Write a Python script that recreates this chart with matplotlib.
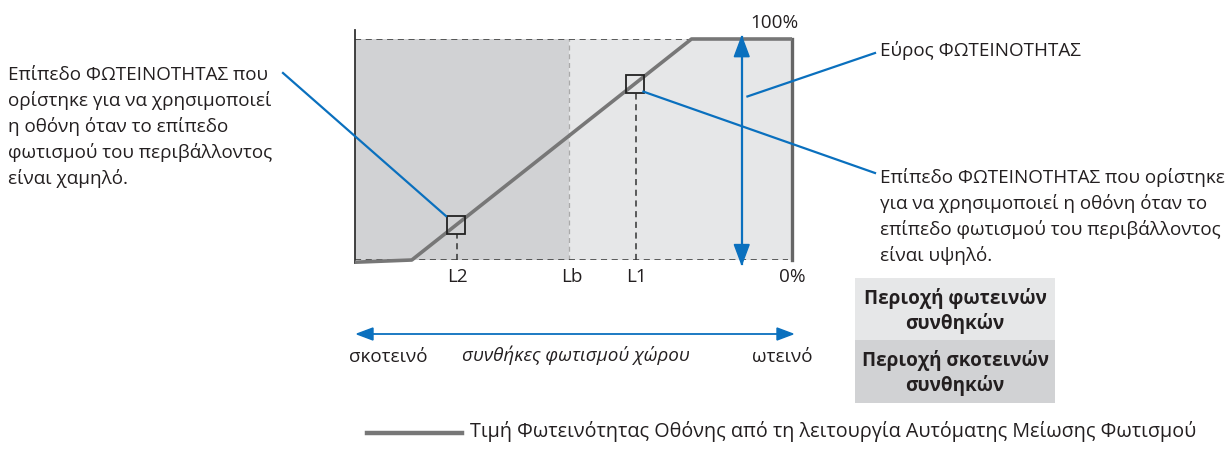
import numpy as np
import matplotlib
matplotlib.use("Agg")
import matplotlib.pyplot as plt
from matplotlib.patches import Rectangle, Polygon

plt.rcParams['font.family'] = ['Open Sans', 'DejaVu Sans']

# ---- data ----
curve_x = [0, 13, 77, 100]          # ambient light (% of range)
curve_y = [-1, 0, 100, 100]         # brightness (%)
lb_x = 49                            # boundary between dark/bright regions
l2_x = 23
l1_x = 64
tick_labels = ["L2", "Lb", "L1"]
left_text = ("Επίπεδο ΦΩΤΕΙΝΟΤΗΤΑΣ που\nορίστηκε για να χρησιμοποιεί\n"
             "η οθόνη όταν το επίπεδο\nφωτισμού του περιβάλλοντος\nείναι χαμηλό.")
right_text = ("Επίπεδο ΦΩΤΕΙΝΟΤΗΤΑΣ που ορίστηκε\nγια να χρησιμοποιεί η οθόνη όταν το\n"
              "επίπεδο φωτισμού του περιβάλλοντος\nείναι υψηλό.")
range_text = "Εύρος ΦΩΤΕΙΝΟΤΗΤΑΣ"
bright_box = "Περιοχή φωτεινών\nσυνθηκών"
dark_box = "Περιοχή σκοτεινών\nσυνθηκών"
axis_left, axis_mid, axis_right = "σκοτεινό", "συνθήκες φωτισμού χώρου", "ωτεινό"
legend_text = "Τιμή Φωτεινότητας Οθόνης από τη λειτουργία Αυτόματης Μείωσης Φωτισμού"

W, H = 1229, 458
fig = plt.figure(figsize=(W / 100, H / 100), dpi=100)
fig.patch.set_facecolor("white")

DARK = "#d1d2d4"
LIGHT = "#e6e7e8"
BLUE = "#0a70be"
GRAY = "#777777"
TXT = "#231f20"
FS = 13.6

# chart axes
ax = fig.add_axes([355 / W, 1 - 260 / H, (792 - 355) / W, (260 - 39) / H])
ax.set_xlim(0, 100)
ax.set_ylim(0, 100)
ax.axis("off")
ax.patch.set_alpha(0)

# overlay in pixel coords, on top of the chart
ov = fig.add_axes([0, 0, 1, 1], zorder=5)
ov.set_xlim(0, W)
ov.set_ylim(H, 0)
ov.axis("off")
ov.patch.set_alpha(0)

ax.axvspan(0, lb_x, color=DARK, lw=0, zorder=0)
ax.axvspan(lb_x, 100, color=LIGHT, lw=0, zorder=0)
ax.axvline(lb_x, color="#aaaaaa", lw=0.9, ls=(0, (4, 3)), zorder=1)
# top and bottom dashed lines
ax.plot([0, curve_x[2]], [100, 100], color="#333333", lw=1.1, ls=(0, (4, 3)), zorder=2)
ax.plot([0, 99], [0, 0], color="#333333", lw=1.1, ls=(0, (4, 3)), zorder=2)
# left and right verticals
ax.plot([0, 0], [-1.5, 104], color="#333333", lw=1.3, clip_on=False, zorder=3)
ax.plot([100, 100], [0, 100], color="#666666", lw=2.4, clip_on=False, zorder=3)

# curve
ax.plot(curve_x, curve_y, color=GRAY, lw=2.6, clip_on=False, zorder=4,
        solid_capstyle="butt")

# L markers
for lx in (l2_x, l1_x):
    ly = np.interp(lx, curve_x[1:], curve_y[1:])
    ax.plot([lx + 0.4, lx + 0.4], [0, ly - 4], color="#333333", lw=1.1,
            ls=(0, (4, 3)), zorder=3)
    ax.plot(lx, ly, marker="s", ms=13, mfc="none", mec="#222222", mew=1.3, zorder=5)

for lx, lab in zip((l2_x, lb_x, l1_x), tick_labels):
    ax.text(lx + 0.5, -3.5, lab, ha="center", va="top", fontsize=FS, color=TXT)
ax.text(100, -3.5, "0%", ha="center", va="top", fontsize=FS, color=TXT)
ax.text(96, 103, "100%", ha="center", va="bottom", fontsize=FS, color=TXT)

# range arrow (vertical)
ar_x = 88.5
ax.plot([ar_x, ar_x], [-2, 101], color=BLUE, lw=1.6, clip_on=False, zorder=6)
ax.add_patch(Polygon([[ar_x - 1.7, 92], [ar_x + 1.7, 92], [ar_x, 101]], closed=True,
                     color=BLUE, clip_on=False, zorder=6))
ax.add_patch(Polygon([[ar_x - 1.7, 7], [ar_x + 1.7, 7], [ar_x, -2]], closed=True,
                     color=BLUE, clip_on=False, zorder=6))


def px(x, y):
    dx, dy = ax.transData.transform((x, y))
    return dx, H - dy


# leaders
l2y = np.interp(l2_x, curve_x[1:], curve_y[1:])
l1y = np.interp(l1_x, curve_x[1:], curve_y[1:])
x0, y0 = px(l2_x - 2.2, l2y + 4.3)
ov.plot([283, x0], [73, y0], color=BLUE, lw=1.6)
x0, y0 = px(l1_x + 2.0, l1y - 3.5)
ov.plot([x0, 875], [y0, 173], color=BLUE, lw=1.6)
x0, y0 = px(ar_x + 1.3, 74)
ov.plot([x0, 875], [y0, 53], color=BLUE, lw=1.6)

ov.text(8, 66, left_text, ha="left", va="top", fontsize=FS, linespacing=1.46, color=TXT)
ov.text(880, 168, right_text, ha="left", va="top", fontsize=FS, linespacing=1.46, color=TXT)
ov.text(880, 51, range_text, ha="left", va="center", fontsize=FS, color=TXT)

# bottom ambient arrow
ov.plot([370, 780], [334, 334], color=BLUE, lw=1.3)
ov.add_patch(Polygon([[357, 334], [373, 328], [373, 340]], closed=True, color=BLUE))
ov.add_patch(Polygon([[793, 334], [777, 328], [777, 340]], closed=True, color=BLUE))
ov.text(388, 357, axis_left, ha="center", va="center", fontsize=FS, color=TXT)
ov.text(576, 355, axis_mid, ha="center", va="center", fontsize=FS, style="italic", color=TXT)
ov.text(782, 357, axis_right, ha="center", va="center", fontsize=FS, color=TXT)

# region legend boxes
ov.add_patch(Rectangle((855, 278), 200, 62, color=LIGHT, lw=0))
ov.add_patch(Rectangle((855, 340), 200, 63, color=DARK, lw=0))
ov.text(955, 311, bright_box, ha="center", va="center", fontsize=FS, weight="bold",
        linespacing=1.22, color=TXT)
ov.text(955, 373, dark_box, ha="center", va="center", fontsize=FS, weight="bold",
        linespacing=1.22, color=TXT)

# line legend
ov.plot([367, 462], [433, 433], color=GRAY, lw=3.2)
ov.text(470, 432, legend_text, ha="left", va="center", fontsize=14.2, color=TXT)

fig.savefig("out.png", dpi=100, facecolor="white")
